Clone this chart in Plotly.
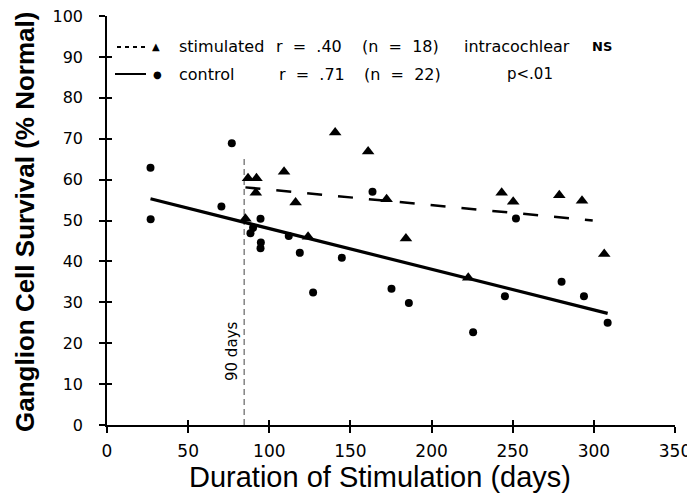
"""Ganglion cell survival vs. duration of stimulation (scatter + fits)."""

import plotly.graph_objects as go

# ---------------- data ----------------
stim_days = [86.9, 92.1, 91.7, 85.3, 109.1, 116.2, 123.9, 140.6, 160.9,
             172.3, 184.2, 222.6, 243.2, 250.3, 278.7, 292.7, 306.4]
stim_pct = [60.3, 60.3, 56.8, 50.4, 61.9, 54.4, 46.0, 71.5, 66.9,
            55.2, 45.6, 36.0, 56.8, 54.6, 56.2, 54.8, 41.8]

control_days = [26.8, 26.9, 76.9, 70.5, 94.6, 90.0, 88.4, 94.6, 94.8, 112.0,
                118.8, 144.7, 127.0, 163.6, 175.3, 186.0, 225.6, 252.0,
                245.2, 280.1, 293.9, 308.5]
control_pct = [62.9, 50.3, 68.9, 53.4, 50.4, 48.2, 46.9, 43.2, 44.6, 46.2,
               42.1, 40.9, 32.4, 57.0, 33.3, 29.8, 22.7, 50.5,
               31.5, 35.0, 31.5, 25.0]

stim_fit_days = [85.3, 299.3]
stim_fit_pct = [58.1, 50.0]
control_fit_days = [26.8, 308.5]
control_fit_pct = [55.3, 27.3]

cutoff_days = [84.5, 84.5]
cutoff_pct = [0, 65.6]

x_ticks = [0, 50, 100, 150, 200, 250, 300, 350]
y_ticks = [0, 10, 20, 30, 40, 50, 60, 70, 80, 90, 100]

FONT = "Liberation Sans, Arial, sans-serif"
WIDE = "DejaVu Sans, sans-serif"   # wider face stands in for the spaced-out type

# plot area in page pixels; the page body adds an 8 px margin around the figure
W, H, OFF = 695, 493, 8
L, R, T, B = 107, 675, 16, 425


def px(x):
    return (x - L) / (R - L)


def py(y):
    return (B - y) / (B - T)


fig = go.Figure()

# ---------------- fits and cut-off line ----------------
fig.add_trace(go.Scatter(
    x=cutoff_days, y=cutoff_pct, mode='lines',
    line=dict(color='#444', width=1, dash='6px,4px'),
    hoverinfo='skip', showlegend=False
))
fig.add_trace(go.Scatter(
    x=stim_fit_days, y=stim_fit_pct, mode='lines',
    line=dict(color='black', width=2.5, dash='15px,16px'),
    showlegend=False
))
fig.add_trace(go.Scatter(
    x=control_fit_days, y=control_fit_pct, mode='lines',
    line=dict(color='black', width=3.2),
    showlegend=False
))

# ---------------- points ----------------
fig.add_trace(go.Scatter(
    x=control_days, y=control_pct, mode='markers', name='control',
    marker=dict(symbol='circle', size=8, color='black'),
    showlegend=False
))
fig.add_trace(go.Scatter(
    x=stim_days, y=stim_pct, mode='markers', name='stimulated',
    marker=dict(symbol='triangle-up', size=11, color='black'),
    showlegend=False
))

# empty trace so the overlay axes (inner half of the tick crosses) get drawn
fig.add_trace(go.Scatter(x=[], y=[], xaxis='x2', yaxis='y2',
                         showlegend=False, hoverinfo='skip'))

# ---------------- hand-made legend ----------------
row1, row2 = 47, 74
shapes = [
    dict(type='line', xref='paper', yref='paper', x0=px(117), x1=px(146),
         y0=py(row1), y1=py(row1), line=dict(color='black', width=2, dash='4px,4px')),
    dict(type='line', xref='paper', yref='paper', x0=px(115), x1=px(146),
         y0=py(row2), y1=py(row2), line=dict(color='black', width=2)),
]


def note(text, x, y, size=16, xanchor='left', family=WIDE, **kw):
    return dict(text=text, x=px(x), y=py(y), xref='paper', yref='paper',
                xanchor=xanchor, yanchor='middle', showarrow=False,
                font=dict(family=family, size=size, color='black'), **kw)


annotations = [
    note('▲', 156, row1 - 1, size=10, xanchor='center'),
    note('●', 157, row2, size=10, xanchor='center'),
    note('stimulated', 177, row1),
    note('r  =  .40', 274, row1),
    note('(n  =  18)', 360, row1),
    note('intracochlear', 462, row1),
    note('<b>NS</b>', 590, row1, size=13),
    note('control', 177, row2),
    note('r  =  .71', 277, row2),
    note('(n  =  22)', 362, row2),
    note('p<.01', 505, row2, size=15),
    note('90 days', 232, 352, size=15, xanchor='center', textangle=-90),
    # axis titles
    note('Duration of Stimulation (days)', 380, 477, size=29, xanchor='center',
         family=FONT),
    note('<b>Ganglion Cell Survival (% Normal)</b>', 25, 222, size=26,
         xanchor='center', textangle=-90, family=FONT),
]

axis_common = dict(showgrid=False, zeroline=False, color='black',
                   automargin=False, ticklabeloverflow='allow')

fig.update_layout(
    width=W, height=H,
    margin=dict(l=L - OFF, r=W - (R - OFF), t=T - OFF, b=H - (B - OFF)),
    paper_bgcolor='white', plot_bgcolor='white',
    font=dict(family=FONT, color='black'),
    showlegend=False,
    shapes=shapes,
    annotations=annotations,
    xaxis=dict(
        range=[0, 350], tickvals=x_ticks, ticks='outside', ticklen=6,
        tickwidth=1.5, showline=True, linewidth=2, linecolor='black',
        tickfont=dict(size=17, family=WIDE), ticklabelstandoff=4,
        **axis_common
    ),
    yaxis=dict(
        range=[0, 100], tickvals=y_ticks, ticks='outside', ticklen=6,
        tickwidth=1.5, showline=True, linewidth=1.5, linecolor='black',
        tickfont=dict(size=16, family=WIDE), ticklabelstandoff=13,
        **axis_common
    ),
    xaxis2=dict(overlaying='x', matches='x', range=[0, 350], tickvals=x_ticks[1:],
                ticks='inside', ticklen=5, tickwidth=1.5, tickcolor='black',
                showticklabels=False, showline=False, showgrid=False,
                zeroline=False, anchor='y2', side='bottom'),
    yaxis2=dict(overlaying='y', range=[0, 100], tickvals=y_ticks[1:-1],
                ticks='inside', ticklen=5, tickwidth=1.5, tickcolor='black',
                showticklabels=False, showline=False, showgrid=False,
                zeroline=False, anchor='x2', side='left'),
)

fig.write_html("out.html")
